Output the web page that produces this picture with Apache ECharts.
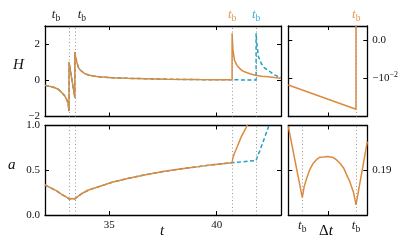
<!DOCTYPE html>
<html><head><meta charset="utf-8">
<script src="https://cdn.jsdelivr.net/npm/echarts@6/dist/echarts.min.js"></script>
<style>html,body{margin:0;padding:0;background:#fff}#c{width:416px;height:251px}</style>
</head><body><div id="c"></div>
<script>
// ---- data ----
const tbTimes = [33.12, 33.39, 40.72, 41.84];
const mainTicks = [35, 40];
// H(t): shared part up to first late bounce
const tShared = [32.0, 32.25, 32.47, 32.65, 32.78, 32.92, 33.01, 33.08, 33.12, 33.12, 33.39, 33.39, 33.44, 33.49, 33.56, 33.64, 33.72, 33.85, 34.03, 34.25, 34.5, 35.13, 35.8, 36.69, 37.7, 39.0, 40.0, 40.72];
const hShared = [-0.28, -0.34, -0.41, -0.52, -0.68, -0.86, -1.05, -1.3, -1.7, 1.0, -0.96, 1.56, 1.2, 0.97, 0.70, 0.57, 0.48, 0.37, 0.29, 0.24, 0.20, 0.14, 0.11, 0.09, 0.06, 0.04, 0.03, 0.03];
const tHOrangeTail = [40.72, 40.76, 40.83, 40.92, 41.0, 41.15, 41.3, 41.55, 41.8, 42.1, 42.4, 42.7, 43.0];
const hOrangeTail  = [2.6, 1.7, 1.12, 0.88, 0.74, 0.57, 0.47, 0.36, 0.28, 0.23, 0.19, 0.15, 0.12];
const tHBlueTail = [41.84, 41.84, 41.87, 41.95, 42.08, 42.2, 42.39, 42.55, 42.7, 42.85, 43.0];
const hBlueTail  = [0.01, 2.6, 2.05, 1.3, 0.93, 0.72, 0.56, 0.42, 0.3, 0.22, 0.17];
// a(t)
const tAShared = [32.0, 32.25, 32.5, 32.78, 33.0, 33.12, 33.25, 33.39, 33.45, 33.55, 33.72, 34.03, 34.5, 35.13, 35.9, 36.69, 37.5, 38.3, 39.0, 39.73, 40.72];
const aShared  = [0.335, 0.305, 0.275, 0.23, 0.20, 0.18, 0.183, 0.18, 0.19, 0.21, 0.24, 0.279, 0.316, 0.365, 0.41, 0.45, 0.485, 0.515, 0.535, 0.56, 0.585];
const tAOrangeTail = [40.76, 40.83, 40.99, 41.14, 41.38, 41.45];
const aOrangeTail  = [0.64, 0.69, 0.78, 0.87, 0.98, 1.02];
const tABlueTail = [41.84, 41.92, 42.0, 42.23, 42.44, 42.5];
const aBlueTail  = [0.608, 0.67, 0.71, 0.86, 1.0, 1.04];
// zoomed panels (Δt in panel units)
const zoomTb = [0.177, 0.857];
const zoomHx = [0, 0.857, 0.857];
const zoomH  = [-0.01175, -0.01809, 0.005];
const zoomAx = [0, 0.177, 0.2, 0.233, 0.27, 0.316, 0.36, 0.401, 0.45, 0.499, 0.57, 0.61, 0.654, 0.7, 0.739, 0.78, 0.823, 0.84, 0.857, 1.0];
const zoomA  = [0.1949, 0.18694, 0.18814, 0.18911, 0.19004, 0.19079, 0.19121, 0.19146, 0.19149, 0.19153, 0.19142, 0.19116, 0.19079, 0.19026, 0.18948, 0.1887, 0.18761, 0.1869, 0.18612, 0.19321];

const ORANGE = '#dd8a3c', BLUE = '#1f9fc4';
const SERIF = 'Liberation Serif';
const zip = (a, b) => a.map((v, i) => [v, b[i]]);

function tbRich(color) {
  return {
    t: {fontFamily: SERIF, fontStyle: 'italic', fontSize: 13, lineHeight: 16, color: color, verticalAlign: 'middle'},
    b: {fontFamily: SERIF, fontSize: 9.5, lineHeight: 8, color: color, verticalAlign: 'bottom'}
  };
}
const TB = '{t|t}{b|b}';

const axLine = {show: true, onZero: false, lineStyle: {color: '#000', width: 1.3}};
const tick = (vals) => ({show: true, inside: true, length: 4, lineStyle: {color: '#000', width: 1}, customValues: vals});
const lbl = {fontFamily: SERIF, fontSize: 11, color: '#111'};
const minus = v => (v < 0 ? '\u2212' + Math.abs(v) : String(v));

const grids = [
  {left: 45, top: 26, width: 236, height: 90.5},
  {left: 288.3, top: 26, width: 79, height: 90.5},
  {left: 45, top: 125.5, width: 236, height: 89.5},
  {left: 288.3, top: 125.5, width: 79, height: 89.5}
];

function ax(grid, pos, min, max, ticks, labelOpt) {
  return {type: 'value', gridIndex: grid, position: pos, min: min, max: max,
    axisLine: axLine, axisTick: tick(ticks), splitLine: {show: false},
    axisLabel: labelOpt || {show: false}};
}

const xAxis = [
  ax(0, 'bottom', 32, 43, mainTicks),
  ax(0, 'top', 32, 43, mainTicks),
  ax(1, 'bottom', 0, 1, [0.5]),
  ax(1, 'top', 0, 1, [0.5]),
  ax(2, 'bottom', 32, 43, mainTicks, Object.assign({show: true, margin: 5, customValues: mainTicks}, lbl)),
  ax(2, 'top', 32, 43, mainTicks),
  ax(3, 'bottom', 0, 1, [0.5], {show: true, margin: 3, customValues: zoomTb, formatter: () => TB, rich: tbRich('#222')}),
  ax(3, 'top', 0, 1, [0.5])
];
const yAxis = [
  ax(0, 'left', -2, 3, [-2, 0, 2], Object.assign({show: true, margin: 5, customValues: [-2, 0, 2], formatter: minus}, lbl)),
  ax(0, 'right', -2, 3, [-2, 0, 2]),
  ax(1, 'left', -0.02, 0.00366, [0, -0.01]),
  ax(1, 'right', -0.02, 0.00366, [0, -0.01], Object.assign({show: true, margin: 5, customValues: [0, -0.01],
      formatter: v => (v === 0 ? '{n|0.0}' : '{n|\u221210}{s|\u22122}'),
      rich: {n: {fontFamily: SERIF, fontSize: 11, lineHeight: 14, color: '#111', verticalAlign: 'middle'},
             s: {fontFamily: SERIF, fontSize: 8, lineHeight: 8, color: '#111', verticalAlign: 'top'}}}, lbl)),
  ax(2, 'left', 0, 1, [0, 0.5, 1], Object.assign({show: true, margin: 5, customValues: [0, 0.5, 1], formatter: v => v.toFixed(1)}, lbl)),
  ax(2, 'right', 0, 1, [0, 0.5, 1]),
  ax(3, 'left', 0.185, 0.195, [0.19]),
  ax(3, 'right', 0.185, 0.195, [0.19], Object.assign({show: true, margin: 5, customValues: [0.19], formatter: v => v.toFixed(2)}, lbl))
];

const dotted = {type: [1, 2.5], color: '#999', width: 1};
function vlines(xs, labels) {
  return {silent: true, symbol: 'none', animation: false,
    lineStyle: dotted,
    label: {show: false},
    data: xs.map((x, i) => {
      const d = {xAxis: x};
      if (labels && labels[i]) {
        d.label = {show: true, position: 'end', distance: 3, formatter: TB, rich: tbRich(labels[i].color), offset: labels[i].offset};
      }
      return d;
    })};
}

const lineBase = {type: 'line', showSymbol: false, symbol: 'none', animation: false, clip: true};
const series = [
  Object.assign({}, lineBase, {name: 'Hblue', xAxisIndex: 0, yAxisIndex: 0,
    data: zip(tShared.concat(tHBlueTail), hShared.concat(hBlueTail)),
    lineStyle: {color: BLUE, width: 1.5, type: [4, 2.5]},
    markLine: vlines(tbTimes, [
      {color: '#222', offset: [-13, 0]}, {color: '#222', offset: [7, 0]},
      {color: '#e29a55', offset: [0, 0]}, {color: '#3eaed2', offset: [0, 0]}])}),
  Object.assign({}, lineBase, {name: 'Horange', xAxisIndex: 0, yAxisIndex: 0,
    data: zip(tShared.concat(tHOrangeTail), hShared.concat(hOrangeTail)),
    lineStyle: {color: ORANGE, width: 1.5}}),
  Object.assign({}, lineBase, {name: 'Hzoom', xAxisIndex: 2, yAxisIndex: 2,
    data: zip(zoomHx, zoomH), lineStyle: {color: ORANGE, width: 1.5},
    markLine: vlines([zoomTb[1]], [{color: '#e29a55', offset: [0, 0]}])}),
  Object.assign({}, lineBase, {name: 'Ablue', xAxisIndex: 4, yAxisIndex: 4,
    data: zip(tAShared.concat(tABlueTail), aShared.concat(aBlueTail)),
    lineStyle: {color: BLUE, width: 1.5, type: [4, 2.5]},
    markLine: vlines(tbTimes)}),
  Object.assign({}, lineBase, {name: 'Aorange', xAxisIndex: 4, yAxisIndex: 4,
    data: zip(tAShared.concat(tAOrangeTail), aShared.concat(aOrangeTail)),
    lineStyle: {color: ORANGE, width: 1.5}}),
  Object.assign({}, lineBase, {name: 'Azoom', xAxisIndex: 6, yAxisIndex: 6,
    data: zip(zoomAx, zoomA), lineStyle: {color: ORANGE, width: 1.5},
    markLine: vlines(zoomTb)})
];

const nameStyle = {fontFamily: SERIF, fontStyle: 'italic', fontSize: 15, fill: '#111'};
const graphic = [
  {type: 'text', left: 13, top: 58, style: Object.assign({}, nameStyle, {text: 'H'})},
  {type: 'text', left: 8, top: 158, style: Object.assign({}, nameStyle, {text: 'a'})},
  {type: 'text', left: 160, top: 224, style: Object.assign({}, nameStyle, {text: 't'})},
  {type: 'text', left: 319, top: 224, style: {text: '{d|\u0394}{t|t}', rich: {
    d: {fontFamily: SERIF, fontSize: 15, fill: '#111', color: '#111'},
    t: {fontFamily: SERIF, fontStyle: 'italic', fontSize: 15, color: '#111'}}}}
];

const chart = echarts.init(document.getElementById('c'), null, {renderer: 'canvas'});
chart.setOption({animation: false, grid: grids, xAxis: xAxis, yAxis: yAxis, series: series, graphic: graphic});
</script></body></html>
